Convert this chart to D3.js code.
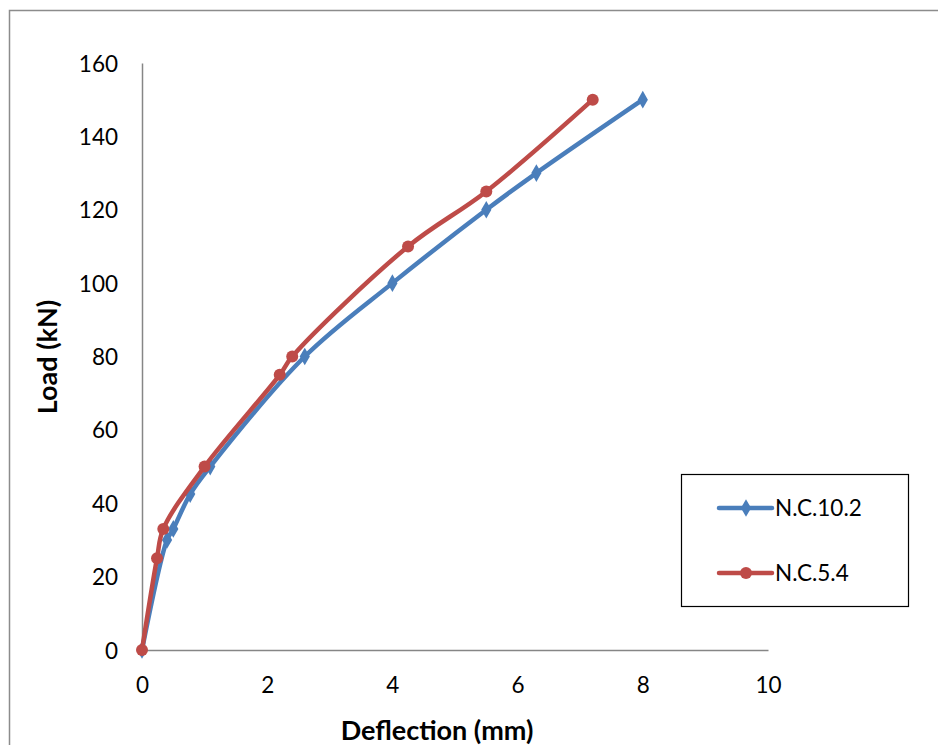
<!DOCTYPE html>
<html>
<head>
<meta charset="utf-8">
<script src="https://cdn.jsdelivr.net/npm/d3@7"></script>
<style>
  html, body { margin: 0; padding: 0; background: #fff; }
  svg { display: block; font-family: Lato, "Open Sans", sans-serif; }
</style>
</head>
<body>
<svg id="chart" width="938" height="745"></svg>
<script>
// ---- data ----
const seriesNames = ["N.C.10.2", "N.C.5.4"];
const deflection1 = [0, 0.4, 0.5, 0.77, 1.09, 2.6, 4.0, 5.5, 6.3, 8.0];
const load1       = [0, 30, 33, 42.5, 50, 80, 100, 120, 130, 150];
const deflection2 = [0, 0.24, 0.34, 1.0, 2.2, 2.4, 4.25, 5.5, 7.2];
const load2       = [0, 25, 33, 50, 75, 80, 110, 125, 150];
const xTicks = [0, 2, 4, 6, 8, 10];
const yTicks = [0, 20, 40, 60, 80, 100, 120, 140, 160];
const xTitle = "Deflection (mm)";
const yTitle = "Load (kN)";
const colors = ["#4a7ebb", "#be4b48"];

const svg = d3.select("#chart");

// outer chart border
svg.append("rect")
  .attr("x", 9.5).attr("y", 10.5)
  .attr("width", 940).attr("height", 760)
  .attr("fill", "none").attr("stroke", "#8c8c8c").attr("stroke-width", 1.5);

const x = d3.scaleLinear().domain([0, 10]).range([142, 768]);
const y = d3.scaleLinear().domain([0, 160]).range([650, 63]);

// axes
const xAxis = d3.axisBottom(x).tickValues(xTicks).tickSize(0).tickPadding(0);
const yAxis = d3.axisLeft(y).tickValues(yTicks).tickSize(0).tickPadding(0);

const gx = svg.append("g").attr("transform", "translate(0,650)").call(xAxis);
gx.select(".domain").attr("stroke", "#868686").attr("stroke-width", 1.5);
gx.selectAll("text").attr("font-size", 22.5).attr("fill", "#000")
  .attr("dy", null).attr("y", 43).attr("font-family", "Lato, sans-serif");

const gy = svg.append("g").attr("transform", "translate(142,0)").call(yAxis);
gy.select(".domain").attr("stroke", "#868686").attr("stroke-width", 1.5);
gy.selectAll("text").attr("font-size", 22.5).attr("fill", "#000")
  .attr("x", -24).attr("dy", "0.36em").attr("font-family", "Lato, sans-serif");

// axis titles
svg.append("text")
  .attr("x", 437).attr("y", 740)
  .attr("text-anchor", "middle")
  .attr("font-size", 27).attr("font-weight", "bold")
  .text(xTitle);
svg.append("text")
  .attr("transform", "translate(57,357) rotate(-90)")
  .attr("text-anchor", "middle")
  .attr("font-size", 27).attr("font-weight", "bold")
  .text(yTitle);

// lines
const line = d3.line()
  .x(d => x(d[0])).y(d => y(d[1]))
  .curve(d3.curveCatmullRom.alpha(0.5));

const data1 = deflection1.map((d, i) => [d, load1[i]]);
const data2 = deflection2.map((d, i) => [d, load2[i]]);

svg.append("path").datum(data1)
  .attr("d", line).attr("fill", "none")
  .attr("stroke", colors[0]).attr("stroke-width", 4.5)
  .attr("stroke-linejoin", "round").attr("stroke-linecap", "round");

const diamond = d3.symbol().type(d3.symbolDiamond).size(90);
svg.append("g").selectAll("path").data(data1).join("path")
  .attr("d", diamond)
  .attr("transform", d => `translate(${x(d[0])},${y(d[1])})`)
  .attr("fill", colors[0]);

svg.append("path").datum(data2)
  .attr("d", line).attr("fill", "none")
  .attr("stroke", colors[1]).attr("stroke-width", 4.5)
  .attr("stroke-linejoin", "round").attr("stroke-linecap", "round");

svg.append("g").selectAll("circle").data(data2).join("circle")
  .attr("cx", d => x(d[0])).attr("cy", d => y(d[1]))
  .attr("r", 6).attr("fill", colors[1]);

// legend
const lg = svg.append("g");
lg.append("rect")
  .attr("x", 681.5).attr("y", 474.5).attr("width", 227).attr("height", 132)
  .attr("fill", "#fff").attr("stroke", "#000").attr("stroke-width", 1.2);
const legendY = [508, 573];
seriesNames.forEach((name, i) => {
  const cy = legendY[i];
  lg.append("line")
    .attr("x1", 719).attr("x2", 772).attr("y1", cy).attr("y2", cy)
    .attr("stroke", colors[i]).attr("stroke-width", 4.5).attr("stroke-linecap", "round");
  if (i === 0) {
    lg.append("path").attr("d", diamond)
      .attr("transform", `translate(746,${cy})`).attr("fill", colors[i]);
  } else {
    lg.append("circle").attr("cx", 746).attr("cy", cy).attr("r", 6).attr("fill", colors[i]);
  }
  lg.append("text")
    .attr("x", 775).attr("y", cy).attr("dy", "0.36em")
    .attr("font-size", 22.5).attr("fill", "#000")
    .text(name);
});
</script>
</body>
</html>
